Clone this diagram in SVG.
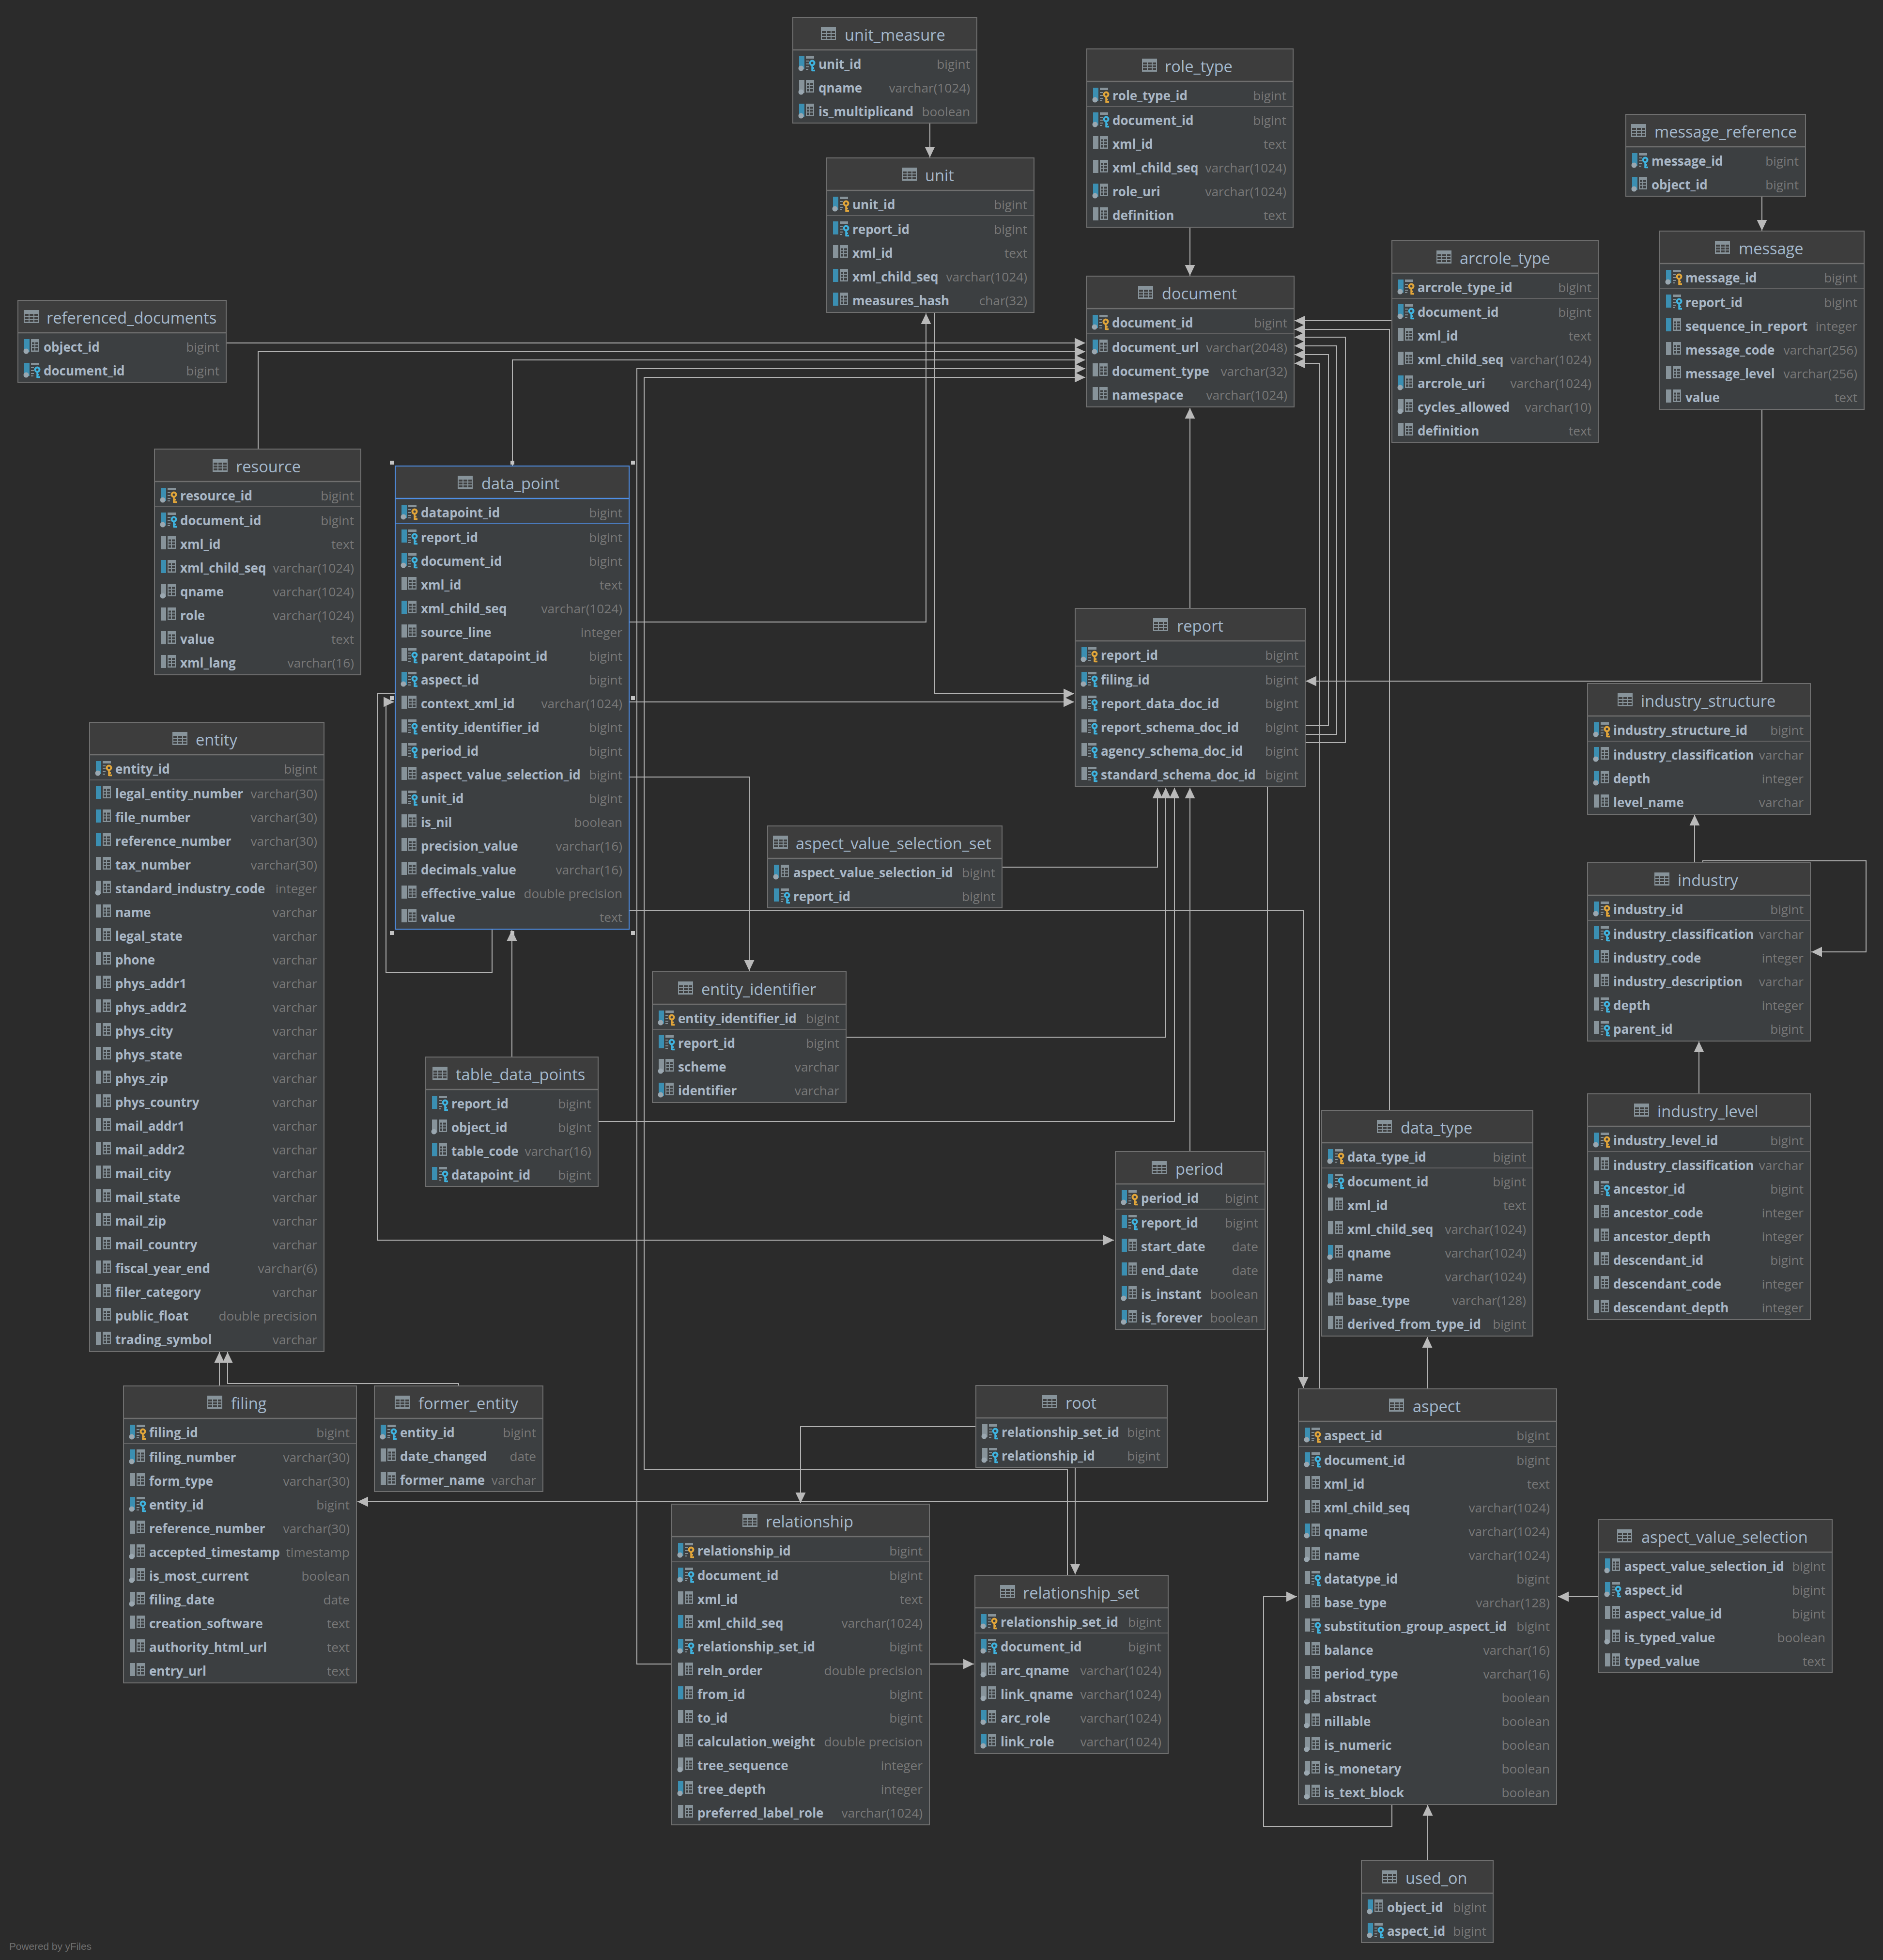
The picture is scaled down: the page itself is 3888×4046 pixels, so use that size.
<svg xmlns="http://www.w3.org/2000/svg" width="3888" height="4046" viewBox="0 0 3888 4046">
<style>
.n{font:700 26px "Open Sans","Noto Sans",sans-serif;fill:#a9b7c6;transform:translateY(1px)}
.t{font:400 26.2px "Open Sans","Noto Sans",sans-serif;fill:#787878;text-anchor:end;transform:translateY(1px)}
.h{font:400 32.6px "Open Sans","Noto Sans",sans-serif;fill:#a4b8cc}
.b{fill:#3c3f41;stroke:#6f6f6f;stroke-width:2}
.c{fill:#3d3d3d}
.s{stroke:#6f6f6f;stroke-width:2.5}
.p{stroke:#6f6f6f;stroke-width:1.5}
.sel .b{stroke:#4f8fe6}
.sel .s,.sel .p{stroke:#4f8fe6}
#conn path{fill:none;stroke:#b2b2b2;stroke-width:2;marker-end:url(#a)}
#conn path.o{marker-end:none}
.hd{fill:#c4c4c4}
</style>
<defs>
<marker id="a" markerUnits="userSpaceOnUse" markerWidth="22" markerHeight="22" refX="21" refY="10" orient="auto" viewBox="0 0 21 20"><path d="M0 0L21 10L0 20z" fill="#b9b9b9"/></marker>
<g id="ti"><rect width="31" height="27" fill="#87939a"/><path d="M2 8h8v4h-8zM12 8h8v4h-8zM22 8h7v4h-7zM2 14h8v4h-8zM12 14h8v4h-8zM22 14h7v4h-7zM2 20h8v4h-8zM12 20h8v4h-8zM22 20h7v4h-7z" fill="#3d3d3d"/></g>
<rect id="bb" width="11" height="27" fill="#3b8fb2"/>
<rect id="bg" width="11" height="27" fill="#87939a"/>
<circle id="d" cx="4" cy="25" r="5.5" fill="#9aa7b0"/>
<path id="tb" d="M14 0h17v26h-17zM16 6.500v4h5v-4zM23 6.500v4h6v-4zM16 12.500v4h5v-4zM23 12.500v4h6v-4zM16 18.500v5h5v-5zM23 18.500v5h6v-5z" fill="#87939a" fill-rule="evenodd"/>
<path id="kf" d="M14 0h17v5h-17zM14 9h6v2h-6zM14 15h6v2h-6zM14 21h6v2h-6zM14 26h5v2h-5z" fill="#87939a"/>
<g id="kg" fill="none" stroke="#e2a63a"><circle cx="27" cy="14" r="4.500" stroke-width="4"/><path d="M27 18v13M27 29.500h6M27 24.500h4" stroke-width="3.500"/></g>
<g id="kb" fill="none" stroke="#3fb4e0"><circle cx="27" cy="14" r="4.500" stroke-width="4"/><path d="M27 18v13M27 29.500h6M27 24.500h4" stroke-width="3.500"/></g>
<g id="pk"><use href="#bb"/><use href="#d"/><use href="#kf"/><use href="#kg"/></g>
<g id="bdf"><use href="#bb"/><use href="#d"/><use href="#kf"/><use href="#kb"/></g>
<g id="gdf"><use href="#bg"/><use href="#d"/><use href="#kf"/><use href="#kb"/></g>
<g id="bf"><use href="#bb"/><use href="#kf"/><use href="#kb"/></g>
<g id="gf"><use href="#bg"/><use href="#kf"/><use href="#kb"/></g>
<g id="bdt"><use href="#bb"/><use href="#d"/><use href="#tb"/></g>
<g id="gdt"><use href="#bg"/><use href="#d"/><use href="#tb"/></g>
<g id="bt"><use href="#bb"/><use href="#tb"/></g>
<g id="gt"><use href="#bg"/><use href="#tb"/></g>
</defs>
<rect width="3888" height="4046" fill="#2b2b2b"/>
<g id="conn">
<path d="M1920 254V325"/>
<path d="M2457 469V569"/>
<path d="M3638 405V476"/>
<path d="M467 708H2241"/>
<path d="M533 927V726H2241"/>
<path d="M1058 962V743H2241"/>
<path d="M1387 3435H1315V761H2241"/>
<path d="M2204 3252V3034H1330V779H2241"/>
<path d="M2874 662H2673"/>
<path d="M2869 2292V680H2673"/>
<path d="M2695 1533H2778V696H2673"/>
<path d="M2695 1516H2760V714H2673"/>
<path d="M2695 1498H2743V732H2673"/>
<path d="M2724 2867V750H2673"/>
<path d="M2457 1256V842"/>
<path d="M1299 1284H1912V647"/>
<path d="M1930 645V1432H2218"/>
<path d="M1299 1449H2218"/>
<path d="M3638 845V1406H2696"/>
<path d="M2069 1790H2390V1626"/>
<path d="M1747 2141H2407V1626"/>
<path d="M1235 2315H2425V1626"/>
<path d="M2457 2377V1626"/>
<path d="M2617 1624V3100H738"/>
<path d="M1299 1604H1547V2004"/>
<path d="M816 1432H779V2560H2300"/>
<path d="M1016 1918V2008H797V1449H814"/>
<path d="M1057 2182V1920"/>
<path d="M1299 1879H2691V2865"/>
<path d="M2015 2945H1653V3103"/>
<path d="M2220 3029V3250"/>
<path d="M1919 3435H2011"/>
<path d="M453 2861V2791"/>
<path d="M947 2861V2856H470V2791"/>
<path d="M3301 3296H3217"/>
<path d="M2874 3725V3770H2609V3296H2678"/>
<path d="M2948 3841V3726"/>
<path d="M2947 2867V2760"/>
<path d="M3499 1781V1682"/>
<path d="M3516 1781V1777H3853V1965H3740"/>
<path d="M3508 2258V2150"/>
</g>
<g id="unit_measure" transform="translate(1637,36)"><rect class="b" width="380" height="218"/><rect class="c" x="1" y="1" width="378" height="66"/><line class="s" x2="380" y1="67" y2="67"/><use href="#ti" x="58" y="20"/><text class="h" x="107" y="48">unit_measure</text>
<use href="#bdf" x="13" y="80"/><text class="n" x="53" y="105">unit_id</text><text class="t" x="366" y="105">bigint</text>
<use href="#gdt" x="13" y="129"/><text class="n" x="53" y="154">qname</text><text class="t" x="366" y="154">varchar(1024)</text>
<use href="#bdt" x="13" y="178"/><text class="n" x="53" y="203">is_multiplicand</text><text class="t" x="366" y="203">boolean</text></g>
<g id="unit" transform="translate(1707,326)"><rect class="b" width="428" height="319"/><rect class="c" x="1" y="1" width="426" height="66"/><line class="s" x2="428" y1="67" y2="67"/><line class="p" x2="428" y1="119" y2="119"/><use href="#ti" x="155" y="20"/><text class="h" x="203" y="48">unit</text>
<use href="#pk" x="13" y="80"/><text class="n" x="53" y="105">unit_id</text><text class="t" x="414" y="105">bigint</text>
<use href="#bf" x="13" y="131"/><text class="n" x="53" y="156">report_id</text><text class="t" x="414" y="156">bigint</text>
<use href="#gt" x="13" y="180"/><text class="n" x="53" y="205">xml_id</text><text class="t" x="414" y="205">text</text>
<use href="#bt" x="13" y="229"/><text class="n" x="53" y="254">xml_child_seq</text><text class="t" x="414" y="254">varchar(1024)</text>
<use href="#bt" x="13" y="278"/><text class="n" x="53" y="303">measures_hash</text><text class="t" x="414" y="303">char(32)</text></g>
<g id="role_type" transform="translate(2244,101)"><rect class="b" width="426" height="368"/><rect class="c" x="1" y="1" width="424" height="66"/><line class="s" x2="426" y1="67" y2="67"/><line class="p" x2="426" y1="119" y2="119"/><use href="#ti" x="114" y="20"/><text class="h" x="161" y="48">role_type</text>
<use href="#pk" x="13" y="80"/><text class="n" x="53" y="105">role_type_id</text><text class="t" x="412" y="105">bigint</text>
<use href="#bdf" x="13" y="131"/><text class="n" x="53" y="156">document_id</text><text class="t" x="412" y="156">bigint</text>
<use href="#gt" x="13" y="180"/><text class="n" x="53" y="205">xml_id</text><text class="t" x="412" y="205">text</text>
<use href="#gt" x="13" y="229"/><text class="n" x="53" y="254">xml_child_seq</text><text class="t" x="412" y="254">varchar(1024)</text>
<use href="#bdt" x="13" y="278"/><text class="n" x="53" y="303">role_uri</text><text class="t" x="412" y="303">varchar(1024)</text>
<use href="#gt" x="13" y="327"/><text class="n" x="53" y="352">definition</text><text class="t" x="412" y="352">text</text></g>
<g id="document" transform="translate(2243,570)"><rect class="b" width="429" height="270"/><rect class="c" x="1" y="1" width="427" height="66"/><line class="s" x2="429" y1="67" y2="67"/><line class="p" x2="429" y1="119" y2="119"/><use href="#ti" x="107" y="20"/><text class="h" x="156" y="48">document</text>
<use href="#pk" x="13" y="80"/><text class="n" x="53" y="105">document_id</text><text class="t" x="415" y="105">bigint</text>
<use href="#bdt" x="13" y="131"/><text class="n" x="53" y="156">document_url</text><text class="t" x="415" y="156">varchar(2048)</text>
<use href="#gt" x="13" y="180"/><text class="n" x="53" y="205">document_type</text><text class="t" x="415" y="205">varchar(32)</text>
<use href="#gt" x="13" y="229"/><text class="n" x="53" y="254">namespace</text><text class="t" x="415" y="254">varchar(1024)</text></g>
<g id="report" transform="translate(2220,1256)"><rect class="b" width="475" height="368"/><rect class="c" x="1" y="1" width="473" height="66"/><line class="s" x2="475" y1="67" y2="67"/><line class="p" x2="475" y1="119" y2="119"/><use href="#ti" x="161" y="20"/><text class="h" x="210" y="48">report</text>
<use href="#pk" x="13" y="80"/><text class="n" x="53" y="105">report_id</text><text class="t" x="461" y="105">bigint</text>
<use href="#bdf" x="13" y="131"/><text class="n" x="53" y="156">filing_id</text><text class="t" x="461" y="156">bigint</text>
<use href="#gf" x="13" y="180"/><text class="n" x="53" y="205">report_data_doc_id</text><text class="t" x="461" y="205">bigint</text>
<use href="#gf" x="13" y="229"/><text class="n" x="53" y="254">report_schema_doc_id</text><text class="t" x="461" y="254">bigint</text>
<use href="#gf" x="13" y="278"/><text class="n" x="53" y="303">agency_schema_doc_id</text><text class="t" x="461" y="303">bigint</text>
<use href="#gf" x="13" y="327"/><text class="n" x="53" y="352">standard_schema_doc_id</text><text class="t" x="461" y="352">bigint</text></g>
<g id="referenced_documents" transform="translate(37,620)"><rect class="b" width="430" height="169"/><rect class="c" x="1" y="1" width="428" height="66"/><line class="s" x2="430" y1="67" y2="67"/><use href="#ti" x="12" y="20"/><text class="h" x="59" y="48">referenced_documents</text>
<use href="#bdt" x="13" y="80"/><text class="n" x="53" y="105">object_id</text><text class="t" x="416" y="105">bigint</text>
<use href="#bdf" x="13" y="129"/><text class="n" x="53" y="154">document_id</text><text class="t" x="416" y="154">bigint</text></g>
<g id="resource" transform="translate(319,927)"><rect class="b" width="426" height="466"/><rect class="c" x="1" y="1" width="424" height="66"/><line class="s" x2="426" y1="67" y2="67"/><line class="p" x2="426" y1="119" y2="119"/><use href="#ti" x="120" y="20"/><text class="h" x="168" y="48">resource</text>
<use href="#pk" x="13" y="80"/><text class="n" x="53" y="105">resource_id</text><text class="t" x="412" y="105">bigint</text>
<use href="#bdf" x="13" y="131"/><text class="n" x="53" y="156">document_id</text><text class="t" x="412" y="156">bigint</text>
<use href="#gt" x="13" y="180"/><text class="n" x="53" y="205">xml_id</text><text class="t" x="412" y="205">text</text>
<use href="#bt" x="13" y="229"/><text class="n" x="53" y="254">xml_child_seq</text><text class="t" x="412" y="254">varchar(1024)</text>
<use href="#gdt" x="13" y="278"/><text class="n" x="53" y="303">qname</text><text class="t" x="412" y="303">varchar(1024)</text>
<use href="#gt" x="13" y="327"/><text class="n" x="53" y="352">role</text><text class="t" x="412" y="352">varchar(1024)</text>
<use href="#gt" x="13" y="376"/><text class="n" x="53" y="401">value</text><text class="t" x="412" y="401">text</text>
<use href="#gt" x="13" y="425"/><text class="n" x="53" y="450">xml_lang</text><text class="t" x="412" y="450">varchar(16)</text></g>
<g id="data_point" class="sel" transform="translate(816,962)"><rect class="b" width="483" height="956"/><rect class="c" x="1" y="1" width="481" height="66"/><line class="s" x2="483" y1="67" y2="67"/><line class="p" x2="483" y1="119" y2="119"/><use href="#ti" x="129" y="20"/><text class="h" x="178" y="48">data_point</text>
<use href="#pk" x="13" y="80"/><text class="n" x="53" y="105">datapoint_id</text><text class="t" x="469" y="105">bigint</text>
<use href="#bf" x="13" y="131"/><text class="n" x="53" y="156">report_id</text><text class="t" x="469" y="156">bigint</text>
<use href="#bdf" x="13" y="180"/><text class="n" x="53" y="205">document_id</text><text class="t" x="469" y="205">bigint</text>
<use href="#gt" x="13" y="229"/><text class="n" x="53" y="254">xml_id</text><text class="t" x="469" y="254">text</text>
<use href="#bt" x="13" y="278"/><text class="n" x="53" y="303">xml_child_seq</text><text class="t" x="469" y="303">varchar(1024)</text>
<use href="#gt" x="13" y="327"/><text class="n" x="53" y="352">source_line</text><text class="t" x="469" y="352">integer</text>
<use href="#gf" x="13" y="376"/><text class="n" x="53" y="401">parent_datapoint_id</text><text class="t" x="469" y="401">bigint</text>
<use href="#bdf" x="13" y="425"/><text class="n" x="53" y="450">aspect_id</text><text class="t" x="469" y="450">bigint</text>
<use href="#gt" x="13" y="474"/><text class="n" x="53" y="499">context_xml_id</text><text class="t" x="469" y="499">varchar(1024)</text>
<use href="#gf" x="13" y="523"/><text class="n" x="53" y="548">entity_identifier_id</text><text class="t" x="469" y="548">bigint</text>
<use href="#gf" x="13" y="572"/><text class="n" x="53" y="597">period_id</text><text class="t" x="469" y="597">bigint</text>
<use href="#gt" x="13" y="621"/><text class="n" x="53" y="646">aspect_value_selection_id</text><text class="t" x="469" y="646">bigint</text>
<use href="#gf" x="13" y="670"/><text class="n" x="53" y="695">unit_id</text><text class="t" x="469" y="695">bigint</text>
<use href="#gt" x="13" y="719"/><text class="n" x="53" y="744">is_nil</text><text class="t" x="469" y="744">boolean</text>
<use href="#gt" x="13" y="768"/><text class="n" x="53" y="793">precision_value</text><text class="t" x="469" y="793">varchar(16)</text>
<use href="#gt" x="13" y="817"/><text class="n" x="53" y="842">decimals_value</text><text class="t" x="469" y="842">varchar(16)</text>
<use href="#gt" x="13" y="866"/><text class="n" x="53" y="891">effective_value</text><text class="t" x="469" y="891">double precision</text>
<use href="#gt" x="13" y="915"/><text class="n" x="53" y="940">value</text><text class="t" x="469" y="940">text</text></g>
<g id="selection" class="hd"><rect x="805" y="951" width="8" height="8"/><rect x="1054" y="951" width="8" height="8"/><rect x="1303" y="951" width="8" height="8"/><rect x="805" y="1437" width="8" height="8"/><rect x="1303" y="1437" width="8" height="8"/><rect x="805" y="1922" width="8" height="8"/><rect x="1054" y="1922" width="8" height="8"/><rect x="1303" y="1922" width="8" height="8"/></g>
<g id="entity" transform="translate(185,1491)"><rect class="b" width="484" height="1299"/><rect class="c" x="1" y="1" width="482" height="66"/><line class="s" x2="484" y1="67" y2="67"/><line class="p" x2="484" y1="119" y2="119"/><use href="#ti" x="171" y="20"/><text class="h" x="219" y="48">entity</text>
<use href="#pk" x="13" y="80"/><text class="n" x="53" y="105">entity_id</text><text class="t" x="470" y="105">bigint</text>
<use href="#bt" x="13" y="131"/><text class="n" x="53" y="156">legal_entity_number</text><text class="t" x="470" y="156">varchar(30)</text>
<use href="#bt" x="13" y="180"/><text class="n" x="53" y="205">file_number</text><text class="t" x="470" y="205">varchar(30)</text>
<use href="#bt" x="13" y="229"/><text class="n" x="53" y="254">reference_number</text><text class="t" x="470" y="254">varchar(30)</text>
<use href="#gt" x="13" y="278"/><text class="n" x="53" y="303">tax_number</text><text class="t" x="470" y="303">varchar(30)</text>
<use href="#gdt" x="13" y="327"/><text class="n" x="53" y="352">standard_industry_code</text><text class="t" x="470" y="352">integer</text>
<use href="#gt" x="13" y="376"/><text class="n" x="53" y="401">name</text><text class="t" x="470" y="401">varchar</text>
<use href="#gt" x="13" y="425"/><text class="n" x="53" y="450">legal_state</text><text class="t" x="470" y="450">varchar</text>
<use href="#gt" x="13" y="474"/><text class="n" x="53" y="499">phone</text><text class="t" x="470" y="499">varchar</text>
<use href="#gt" x="13" y="523"/><text class="n" x="53" y="548">phys_addr1</text><text class="t" x="470" y="548">varchar</text>
<use href="#gt" x="13" y="572"/><text class="n" x="53" y="597">phys_addr2</text><text class="t" x="470" y="597">varchar</text>
<use href="#gt" x="13" y="621"/><text class="n" x="53" y="646">phys_city</text><text class="t" x="470" y="646">varchar</text>
<use href="#gt" x="13" y="670"/><text class="n" x="53" y="695">phys_state</text><text class="t" x="470" y="695">varchar</text>
<use href="#gt" x="13" y="719"/><text class="n" x="53" y="744">phys_zip</text><text class="t" x="470" y="744">varchar</text>
<use href="#gt" x="13" y="768"/><text class="n" x="53" y="793">phys_country</text><text class="t" x="470" y="793">varchar</text>
<use href="#gt" x="13" y="817"/><text class="n" x="53" y="842">mail_addr1</text><text class="t" x="470" y="842">varchar</text>
<use href="#gt" x="13" y="866"/><text class="n" x="53" y="891">mail_addr2</text><text class="t" x="470" y="891">varchar</text>
<use href="#gt" x="13" y="915"/><text class="n" x="53" y="940">mail_city</text><text class="t" x="470" y="940">varchar</text>
<use href="#gt" x="13" y="964"/><text class="n" x="53" y="989">mail_state</text><text class="t" x="470" y="989">varchar</text>
<use href="#gt" x="13" y="1013"/><text class="n" x="53" y="1038">mail_zip</text><text class="t" x="470" y="1038">varchar</text>
<use href="#gt" x="13" y="1062"/><text class="n" x="53" y="1087">mail_country</text><text class="t" x="470" y="1087">varchar</text>
<use href="#gt" x="13" y="1111"/><text class="n" x="53" y="1136">fiscal_year_end</text><text class="t" x="470" y="1136">varchar(6)</text>
<use href="#gt" x="13" y="1160"/><text class="n" x="53" y="1185">filer_category</text><text class="t" x="470" y="1185">varchar</text>
<use href="#gt" x="13" y="1209"/><text class="n" x="53" y="1234">public_float</text><text class="t" x="470" y="1234">double precision</text>
<use href="#gt" x="13" y="1258"/><text class="n" x="53" y="1283">trading_symbol</text><text class="t" x="470" y="1283">varchar</text></g>
<g id="filing" transform="translate(255,2861)"><rect class="b" width="481" height="613"/><rect class="c" x="1" y="1" width="479" height="66"/><line class="s" x2="481" y1="67" y2="67"/><line class="p" x2="481" y1="119" y2="119"/><use href="#ti" x="173" y="20"/><text class="h" x="222" y="48">filing</text>
<use href="#pk" x="13" y="80"/><text class="n" x="53" y="105">filing_id</text><text class="t" x="467" y="105">bigint</text>
<use href="#bdt" x="13" y="131"/><text class="n" x="53" y="156">filing_number</text><text class="t" x="467" y="156">varchar(30)</text>
<use href="#gt" x="13" y="180"/><text class="n" x="53" y="205">form_type</text><text class="t" x="467" y="205">varchar(30)</text>
<use href="#bdf" x="13" y="229"/><text class="n" x="53" y="254">entity_id</text><text class="t" x="467" y="254">bigint</text>
<use href="#gt" x="13" y="278"/><text class="n" x="53" y="303">reference_number</text><text class="t" x="467" y="303">varchar(30)</text>
<use href="#gdt" x="13" y="327"/><text class="n" x="53" y="352">accepted_timestamp</text><text class="t" x="467" y="352">timestamp</text>
<use href="#gdt" x="13" y="376"/><text class="n" x="53" y="401">is_most_current</text><text class="t" x="467" y="401">boolean</text>
<use href="#gdt" x="13" y="425"/><text class="n" x="53" y="450">filing_date</text><text class="t" x="467" y="450">date</text>
<use href="#gt" x="13" y="474"/><text class="n" x="53" y="499">creation_software</text><text class="t" x="467" y="499">text</text>
<use href="#gt" x="13" y="523"/><text class="n" x="53" y="548">authority_html_url</text><text class="t" x="467" y="548">text</text>
<use href="#gt" x="13" y="572"/><text class="n" x="53" y="597">entry_url</text><text class="t" x="467" y="597">text</text></g>
<g id="former_entity" transform="translate(773,2861)"><rect class="b" width="348" height="218"/><rect class="c" x="1" y="1" width="346" height="66"/><line class="s" x2="348" y1="67" y2="67"/><use href="#ti" x="42" y="20"/><text class="h" x="91" y="48">former_entity</text>
<use href="#bdf" x="13" y="80"/><text class="n" x="53" y="105">entity_id</text><text class="t" x="334" y="105">bigint</text>
<use href="#gt" x="13" y="129"/><text class="n" x="53" y="154">date_changed</text><text class="t" x="334" y="154">date</text>
<use href="#gt" x="13" y="178"/><text class="n" x="53" y="203">former_name</text><text class="t" x="334" y="203">varchar</text></g>
<g id="table_data_points" transform="translate(879,2182)"><rect class="b" width="356" height="267"/><rect class="c" x="1" y="1" width="354" height="66"/><line class="s" x2="356" y1="67" y2="67"/><use href="#ti" x="14" y="20"/><text class="h" x="62" y="48">table_data_points</text>
<use href="#bf" x="13" y="80"/><text class="n" x="53" y="105">report_id</text><text class="t" x="342" y="105">bigint</text>
<use href="#gdt" x="13" y="129"/><text class="n" x="53" y="154">object_id</text><text class="t" x="342" y="154">bigint</text>
<use href="#bt" x="13" y="178"/><text class="n" x="53" y="203">table_code</text><text class="t" x="342" y="203">varchar(16)</text>
<use href="#bf" x="13" y="227"/><text class="n" x="53" y="252">datapoint_id</text><text class="t" x="342" y="252">bigint</text></g>
<g id="aspect_value_selection_set" transform="translate(1585,1705)"><rect class="b" width="484" height="169"/><rect class="c" x="1" y="1" width="482" height="66"/><line class="s" x2="484" y1="67" y2="67"/><use href="#ti" x="11" y="20"/><text class="h" x="58" y="48">aspect_value_selection_set</text>
<use href="#bdt" x="13" y="80"/><text class="n" x="53" y="105">aspect_value_selection_id</text><text class="t" x="470" y="105">bigint</text>
<use href="#bf" x="13" y="129"/><text class="n" x="53" y="154">report_id</text><text class="t" x="470" y="154">bigint</text></g>
<g id="entity_identifier" transform="translate(1347,2006)"><rect class="b" width="400" height="270"/><rect class="c" x="1" y="1" width="398" height="66"/><line class="s" x2="400" y1="67" y2="67"/><line class="p" x2="400" y1="119" y2="119"/><use href="#ti" x="53" y="20"/><text class="h" x="101" y="48">entity_identifier</text>
<use href="#pk" x="13" y="80"/><text class="n" x="53" y="105">entity_identifier_id</text><text class="t" x="386" y="105">bigint</text>
<use href="#bf" x="13" y="131"/><text class="n" x="53" y="156">report_id</text><text class="t" x="386" y="156">bigint</text>
<use href="#gdt" x="13" y="180"/><text class="n" x="53" y="205">scheme</text><text class="t" x="386" y="205">varchar</text>
<use href="#bdt" x="13" y="229"/><text class="n" x="53" y="254">identifier</text><text class="t" x="386" y="254">varchar</text></g>
<g id="period" transform="translate(2303,2377)"><rect class="b" width="309" height="368"/><rect class="c" x="1" y="1" width="307" height="66"/><line class="s" x2="309" y1="67" y2="67"/><line class="p" x2="309" y1="119" y2="119"/><use href="#ti" x="75" y="20"/><text class="h" x="124" y="48">period</text>
<use href="#pk" x="13" y="80"/><text class="n" x="53" y="105">period_id</text><text class="t" x="295" y="105">bigint</text>
<use href="#bf" x="13" y="131"/><text class="n" x="53" y="156">report_id</text><text class="t" x="295" y="156">bigint</text>
<use href="#bt" x="13" y="180"/><text class="n" x="53" y="205">start_date</text><text class="t" x="295" y="205">date</text>
<use href="#bt" x="13" y="229"/><text class="n" x="53" y="254">end_date</text><text class="t" x="295" y="254">date</text>
<use href="#bdt" x="13" y="278"/><text class="n" x="53" y="303">is_instant</text><text class="t" x="295" y="303">boolean</text>
<use href="#bdt" x="13" y="327"/><text class="n" x="53" y="352">is_forever</text><text class="t" x="295" y="352">boolean</text></g>
<g id="root" transform="translate(2015,2860)"><rect class="b" width="395" height="169"/><rect class="c" x="1" y="1" width="393" height="66"/><line class="s" x2="395" y1="67" y2="67"/><use href="#ti" x="136" y="20"/><text class="h" x="185" y="48">root</text>
<use href="#gdf" x="13" y="80"/><text class="n" x="53" y="105">relationship_set_id</text><text class="t" x="381" y="105">bigint</text>
<use href="#gdf" x="13" y="129"/><text class="n" x="53" y="154">relationship_id</text><text class="t" x="381" y="154">bigint</text></g>
<g id="relationship" transform="translate(1387,3105)"><rect class="b" width="532" height="662"/><rect class="c" x="1" y="1" width="530" height="66"/><line class="s" x2="532" y1="67" y2="67"/><line class="p" x2="532" y1="119" y2="119"/><use href="#ti" x="146" y="20"/><text class="h" x="194" y="48">relationship</text>
<use href="#pk" x="13" y="80"/><text class="n" x="53" y="105">relationship_id</text><text class="t" x="518" y="105">bigint</text>
<use href="#bdf" x="13" y="131"/><text class="n" x="53" y="156">document_id</text><text class="t" x="518" y="156">bigint</text>
<use href="#gt" x="13" y="180"/><text class="n" x="53" y="205">xml_id</text><text class="t" x="518" y="205">text</text>
<use href="#bt" x="13" y="229"/><text class="n" x="53" y="254">xml_child_seq</text><text class="t" x="518" y="254">varchar(1024)</text>
<use href="#bdf" x="13" y="278"/><text class="n" x="53" y="303">relationship_set_id</text><text class="t" x="518" y="303">bigint</text>
<use href="#gt" x="13" y="327"/><text class="n" x="53" y="352">reln_order</text><text class="t" x="518" y="352">double precision</text>
<use href="#bt" x="13" y="376"/><text class="n" x="53" y="401">from_id</text><text class="t" x="518" y="401">bigint</text>
<use href="#gt" x="13" y="425"/><text class="n" x="53" y="450">to_id</text><text class="t" x="518" y="450">bigint</text>
<use href="#gt" x="13" y="474"/><text class="n" x="53" y="499">calculation_weight</text><text class="t" x="518" y="499">double precision</text>
<use href="#gdt" x="13" y="523"/><text class="n" x="53" y="548">tree_sequence</text><text class="t" x="518" y="548">integer</text>
<use href="#bdt" x="13" y="572"/><text class="n" x="53" y="597">tree_depth</text><text class="t" x="518" y="597">integer</text>
<use href="#gt" x="13" y="621"/><text class="n" x="53" y="646">preferred_label_role</text><text class="t" x="518" y="646">varchar(1024)</text></g>
<g id="relationship_set" transform="translate(2013,3252)"><rect class="b" width="399" height="368"/><rect class="c" x="1" y="1" width="397" height="66"/><line class="s" x2="399" y1="67" y2="67"/><line class="p" x2="399" y1="119" y2="119"/><use href="#ti" x="52" y="20"/><text class="h" x="99" y="48">relationship_set</text>
<use href="#pk" x="13" y="80"/><text class="n" x="53" y="105">relationship_set_id</text><text class="t" x="385" y="105">bigint</text>
<use href="#bdf" x="13" y="131"/><text class="n" x="53" y="156">document_id</text><text class="t" x="385" y="156">bigint</text>
<use href="#gdt" x="13" y="180"/><text class="n" x="53" y="205">arc_qname</text><text class="t" x="385" y="205">varchar(1024)</text>
<use href="#gdt" x="13" y="229"/><text class="n" x="53" y="254">link_qname</text><text class="t" x="385" y="254">varchar(1024)</text>
<use href="#bdt" x="13" y="278"/><text class="n" x="53" y="303">arc_role</text><text class="t" x="385" y="303">varchar(1024)</text>
<use href="#bdt" x="13" y="327"/><text class="n" x="53" y="352">link_role</text><text class="t" x="385" y="352">varchar(1024)</text></g>
<g id="message_reference" transform="translate(3357,236)"><rect class="b" width="371" height="169"/><rect class="c" x="1" y="1" width="369" height="66"/><line class="s" x2="371" y1="67" y2="67"/><use href="#ti" x="11" y="20"/><text class="h" x="59" y="48">message_reference</text>
<use href="#bdf" x="13" y="80"/><text class="n" x="53" y="105">message_id</text><text class="t" x="357" y="105">bigint</text>
<use href="#bdt" x="13" y="129"/><text class="n" x="53" y="154">object_id</text><text class="t" x="357" y="154">bigint</text></g>
<g id="message" transform="translate(3427,477)"><rect class="b" width="422" height="368"/><rect class="c" x="1" y="1" width="420" height="66"/><line class="s" x2="422" y1="67" y2="67"/><line class="p" x2="422" y1="119" y2="119"/><use href="#ti" x="114" y="20"/><text class="h" x="163" y="48">message</text>
<use href="#pk" x="13" y="80"/><text class="n" x="53" y="105">message_id</text><text class="t" x="408" y="105">bigint</text>
<use href="#bf" x="13" y="131"/><text class="n" x="53" y="156">report_id</text><text class="t" x="408" y="156">bigint</text>
<use href="#bt" x="13" y="180"/><text class="n" x="53" y="205">sequence_in_report</text><text class="t" x="408" y="205">integer</text>
<use href="#gt" x="13" y="229"/><text class="n" x="53" y="254">message_code</text><text class="t" x="408" y="254">varchar(256)</text>
<use href="#gt" x="13" y="278"/><text class="n" x="53" y="303">message_level</text><text class="t" x="408" y="303">varchar(256)</text>
<use href="#gt" x="13" y="327"/><text class="n" x="53" y="352">value</text><text class="t" x="408" y="352">text</text></g>
<g id="arcrole_type" transform="translate(2874,497)"><rect class="b" width="426" height="417"/><rect class="c" x="1" y="1" width="424" height="66"/><line class="s" x2="426" y1="67" y2="67"/><line class="p" x2="426" y1="119" y2="119"/><use href="#ti" x="92" y="20"/><text class="h" x="140" y="48">arcrole_type</text>
<use href="#pk" x="13" y="80"/><text class="n" x="53" y="105">arcrole_type_id</text><text class="t" x="412" y="105">bigint</text>
<use href="#bdf" x="13" y="131"/><text class="n" x="53" y="156">document_id</text><text class="t" x="412" y="156">bigint</text>
<use href="#gt" x="13" y="180"/><text class="n" x="53" y="205">xml_id</text><text class="t" x="412" y="205">text</text>
<use href="#gt" x="13" y="229"/><text class="n" x="53" y="254">xml_child_seq</text><text class="t" x="412" y="254">varchar(1024)</text>
<use href="#bdt" x="13" y="278"/><text class="n" x="53" y="303">arcrole_uri</text><text class="t" x="412" y="303">varchar(1024)</text>
<use href="#gdt" x="13" y="327"/><text class="n" x="53" y="352">cycles_allowed</text><text class="t" x="412" y="352">varchar(10)</text>
<use href="#gt" x="13" y="376"/><text class="n" x="53" y="401">definition</text><text class="t" x="412" y="401">text</text></g>
<g id="industry_structure" transform="translate(3278,1411)"><rect class="b" width="460" height="270"/><rect class="c" x="1" y="1" width="458" height="66"/><line class="s" x2="460" y1="67" y2="67"/><line class="p" x2="460" y1="119" y2="119"/><use href="#ti" x="62" y="20"/><text class="h" x="110" y="48">industry_structure</text>
<use href="#pk" x="13" y="80"/><text class="n" x="53" y="105">industry_structure_id</text><text class="t" x="446" y="105">bigint</text>
<use href="#bdt" x="13" y="131"/><text class="n" x="53" y="156">industry_classification</text><text class="t" x="446" y="156">varchar</text>
<use href="#bdt" x="13" y="180"/><text class="n" x="53" y="205">depth</text><text class="t" x="446" y="205">integer</text>
<use href="#gt" x="13" y="229"/><text class="n" x="53" y="254">level_name</text><text class="t" x="446" y="254">varchar</text></g>
<g id="industry" transform="translate(3278,1781)"><rect class="b" width="460" height="368"/><rect class="c" x="1" y="1" width="458" height="66"/><line class="s" x2="460" y1="67" y2="67"/><line class="p" x2="460" y1="119" y2="119"/><use href="#ti" x="138" y="20"/><text class="h" x="186" y="48">industry</text>
<use href="#pk" x="13" y="80"/><text class="n" x="53" y="105">industry_id</text><text class="t" x="446" y="105">bigint</text>
<use href="#bf" x="13" y="131"/><text class="n" x="53" y="156">industry_classification</text><text class="t" x="446" y="156">varchar</text>
<use href="#bt" x="13" y="180"/><text class="n" x="53" y="205">industry_code</text><text class="t" x="446" y="205">integer</text>
<use href="#gt" x="13" y="229"/><text class="n" x="53" y="254">industry_description</text><text class="t" x="446" y="254">varchar</text>
<use href="#gf" x="13" y="278"/><text class="n" x="53" y="303">depth</text><text class="t" x="446" y="303">integer</text>
<use href="#gf" x="13" y="327"/><text class="n" x="53" y="352">parent_id</text><text class="t" x="446" y="352">bigint</text></g>
<g id="industry_level" transform="translate(3278,2258)"><rect class="b" width="460" height="466"/><rect class="c" x="1" y="1" width="458" height="66"/><line class="s" x2="460" y1="67" y2="67"/><line class="p" x2="460" y1="119" y2="119"/><use href="#ti" x="96" y="20"/><text class="h" x="144" y="48">industry_level</text>
<use href="#pk" x="13" y="80"/><text class="n" x="53" y="105">industry_level_id</text><text class="t" x="446" y="105">bigint</text>
<use href="#gt" x="13" y="131"/><text class="n" x="53" y="156">industry_classification</text><text class="t" x="446" y="156">varchar</text>
<use href="#gf" x="13" y="180"/><text class="n" x="53" y="205">ancestor_id</text><text class="t" x="446" y="205">bigint</text>
<use href="#gt" x="13" y="229"/><text class="n" x="53" y="254">ancestor_code</text><text class="t" x="446" y="254">integer</text>
<use href="#gt" x="13" y="278"/><text class="n" x="53" y="303">ancestor_depth</text><text class="t" x="446" y="303">integer</text>
<use href="#gt" x="13" y="327"/><text class="n" x="53" y="352">descendant_id</text><text class="t" x="446" y="352">bigint</text>
<use href="#gt" x="13" y="376"/><text class="n" x="53" y="401">descendant_code</text><text class="t" x="446" y="401">integer</text>
<use href="#gt" x="13" y="425"/><text class="n" x="53" y="450">descendant_depth</text><text class="t" x="446" y="450">integer</text></g>
<g id="data_type" transform="translate(2729,2292)"><rect class="b" width="436" height="466"/><rect class="c" x="1" y="1" width="434" height="66"/><line class="s" x2="436" y1="67" y2="67"/><line class="p" x2="436" y1="119" y2="119"/><use href="#ti" x="114" y="20"/><text class="h" x="163" y="48">data_type</text>
<use href="#pk" x="13" y="80"/><text class="n" x="53" y="105">data_type_id</text><text class="t" x="422" y="105">bigint</text>
<use href="#bdf" x="13" y="131"/><text class="n" x="53" y="156">document_id</text><text class="t" x="422" y="156">bigint</text>
<use href="#gt" x="13" y="180"/><text class="n" x="53" y="205">xml_id</text><text class="t" x="422" y="205">text</text>
<use href="#gt" x="13" y="229"/><text class="n" x="53" y="254">xml_child_seq</text><text class="t" x="422" y="254">varchar(1024)</text>
<use href="#bdt" x="13" y="278"/><text class="n" x="53" y="303">qname</text><text class="t" x="422" y="303">varchar(1024)</text>
<use href="#gdt" x="13" y="327"/><text class="n" x="53" y="352">name</text><text class="t" x="422" y="352">varchar(1024)</text>
<use href="#gt" x="13" y="376"/><text class="n" x="53" y="401">base_type</text><text class="t" x="422" y="401">varchar(128)</text>
<use href="#gt" x="13" y="425"/><text class="n" x="53" y="450">derived_from_type_id</text><text class="t" x="422" y="450">bigint</text></g>
<g id="aspect" transform="translate(2681,2867)"><rect class="b" width="533" height="858"/><rect class="c" x="1" y="1" width="531" height="66"/><line class="s" x2="533" y1="67" y2="67"/><line class="p" x2="533" y1="119" y2="119"/><use href="#ti" x="187" y="20"/><text class="h" x="236" y="48">aspect</text>
<use href="#pk" x="13" y="80"/><text class="n" x="53" y="105">aspect_id</text><text class="t" x="519" y="105">bigint</text>
<use href="#bdf" x="13" y="131"/><text class="n" x="53" y="156">document_id</text><text class="t" x="519" y="156">bigint</text>
<use href="#gt" x="13" y="180"/><text class="n" x="53" y="205">xml_id</text><text class="t" x="519" y="205">text</text>
<use href="#gt" x="13" y="229"/><text class="n" x="53" y="254">xml_child_seq</text><text class="t" x="519" y="254">varchar(1024)</text>
<use href="#bdt" x="13" y="278"/><text class="n" x="53" y="303">qname</text><text class="t" x="519" y="303">varchar(1024)</text>
<use href="#gdt" x="13" y="327"/><text class="n" x="53" y="352">name</text><text class="t" x="519" y="352">varchar(1024)</text>
<use href="#gf" x="13" y="376"/><text class="n" x="53" y="401">datatype_id</text><text class="t" x="519" y="401">bigint</text>
<use href="#gt" x="13" y="425"/><text class="n" x="53" y="450">base_type</text><text class="t" x="519" y="450">varchar(128)</text>
<use href="#gf" x="13" y="474"/><text class="n" x="53" y="499">substitution_group_aspect_id</text><text class="t" x="519" y="499">bigint</text>
<use href="#gt" x="13" y="523"/><text class="n" x="53" y="548">balance</text><text class="t" x="519" y="548">varchar(16)</text>
<use href="#gt" x="13" y="572"/><text class="n" x="53" y="597">period_type</text><text class="t" x="519" y="597">varchar(16)</text>
<use href="#gdt" x="13" y="621"/><text class="n" x="53" y="646">abstract</text><text class="t" x="519" y="646">boolean</text>
<use href="#gdt" x="13" y="670"/><text class="n" x="53" y="695">nillable</text><text class="t" x="519" y="695">boolean</text>
<use href="#gdt" x="13" y="719"/><text class="n" x="53" y="744">is_numeric</text><text class="t" x="519" y="744">boolean</text>
<use href="#gdt" x="13" y="768"/><text class="n" x="53" y="793">is_monetary</text><text class="t" x="519" y="793">boolean</text>
<use href="#gdt" x="13" y="817"/><text class="n" x="53" y="842">is_text_block</text><text class="t" x="519" y="842">boolean</text></g>
<g id="aspect_value_selection" transform="translate(3301,3137)"><rect class="b" width="482" height="316"/><rect class="c" x="1" y="1" width="480" height="66"/><line class="s" x2="482" y1="67" y2="67"/><use href="#ti" x="38" y="20"/><text class="h" x="88" y="48">aspect_value_selection</text>
<use href="#bdt" x="13" y="80"/><text class="n" x="53" y="105">aspect_value_selection_id</text><text class="t" x="468" y="105">bigint</text>
<use href="#bdf" x="13" y="129"/><text class="n" x="53" y="154">aspect_id</text><text class="t" x="468" y="154">bigint</text>
<use href="#gt" x="13" y="178"/><text class="n" x="53" y="203">aspect_value_id</text><text class="t" x="468" y="203">bigint</text>
<use href="#gdt" x="13" y="227"/><text class="n" x="53" y="252">is_typed_value</text><text class="t" x="468" y="252">boolean</text>
<use href="#gt" x="13" y="276"/><text class="n" x="53" y="301">typed_value</text><text class="t" x="468" y="301">text</text></g>
<g id="used_on" transform="translate(2811,3841)"><rect class="b" width="272" height="169"/><rect class="c" x="1" y="1" width="270" height="66"/><line class="s" x2="272" y1="67" y2="67"/><use href="#ti" x="43" y="20"/><text class="h" x="91" y="48">used_on</text>
<use href="#bdt" x="13" y="80"/><text class="n" x="53" y="105">object_id</text><text class="t" x="258" y="105">bigint</text>
<use href="#bdf" x="13" y="129"/><text class="n" x="53" y="154">aspect_id</text><text class="t" x="258" y="154">bigint</text></g>
<text x="19" y="4025" font-family="'Liberation Sans',sans-serif" font-size="20.8" fill="#6f6f6f">Powered by yFiles</text>
</svg>
